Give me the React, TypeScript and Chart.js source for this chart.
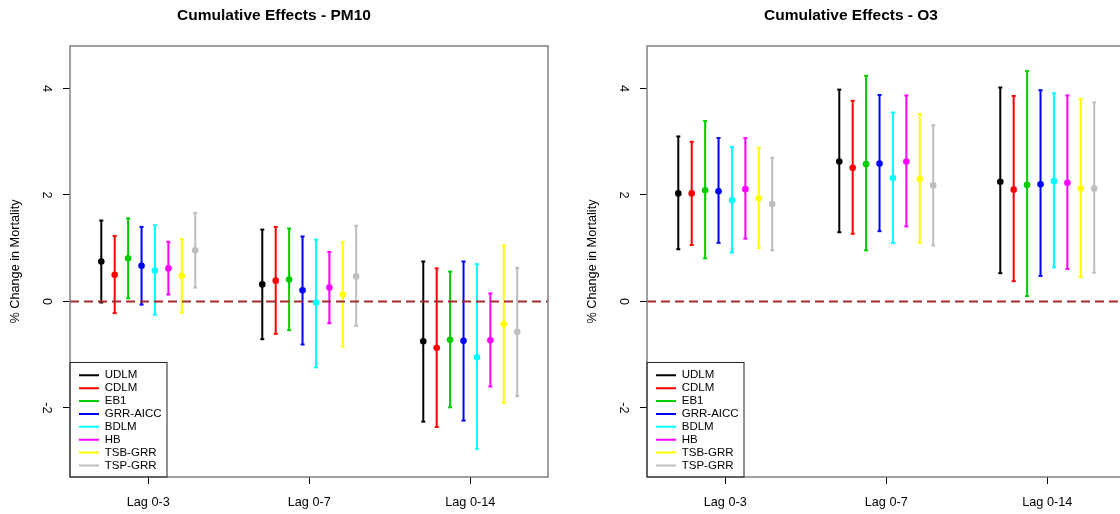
import React, { useEffect, useRef } from "react";
import { Chart, registerables } from "chart.js";

Chart.register(...registerables);

const FONT = "'Liberation Sans', Arial, Helvetica, sans-serif";

const lagLabels = ["Lag 0-3", "Lag 0-7", "Lag 0-14"];
const lagPositions = [1, 2, 3];
const models = ["UDLM", "CDLM", "EB1", "GRR-AICC", "BDLM", "HB", "TSB-GRR", "TSP-GRR"];
const modelColors = ["#000000", "#FF0000", "#00CD00", "#0000FF", "#00FFFF", "#FF00FF", "#FFFF00", "#BEBEBE"];
const yTicks = [-2, 0, 2, 4];
const yMin = -3.3;
const yMax = 4.8;
const xMin = 0.514;
const xMax = 3.483;
const dodge = 1 / 12;
const referenceLevel = 0;

// rows: models, columns: Lag 0-3, Lag 0-7, Lag 0-14
const pm10Estimate = [
  [0.75, 0.32, -0.75],
  [0.5, 0.39, -0.87],
  [0.81, 0.41, -0.72],
  [0.67, 0.21, -0.74],
  [0.58, -0.02, -1.05],
  [0.62, 0.26, -0.73],
  [0.48, 0.13, -0.43],
  [0.96, 0.47, -0.57],
];
const pm10Lower = [
  [-0.02, -0.71, -2.26],
  [-0.22, -0.61, -2.36],
  [0.06, -0.54, -1.99],
  [-0.06, -0.81, -2.24],
  [-0.25, -1.24, -2.77],
  [0.13, -0.41, -1.6],
  [-0.21, -0.85, -1.91],
  [0.26, -0.46, -1.78],
];
const pm10Upper = [
  [1.52, 1.35, 0.75],
  [1.23, 1.4, 0.62],
  [1.56, 1.37, 0.56],
  [1.4, 1.22, 0.75],
  [1.43, 1.16, 0.7],
  [1.12, 0.93, 0.15],
  [1.17, 1.11, 1.05],
  [1.66, 1.42, 0.63],
];

const o3Estimate = [
  [2.03, 2.63, 2.25],
  [2.03, 2.51, 2.1],
  [2.09, 2.58, 2.19],
  [2.07, 2.59, 2.2],
  [1.9, 2.32, 2.26],
  [2.11, 2.63, 2.23],
  [1.94, 2.3, 2.12],
  [1.83, 2.18, 2.12],
];
const o3Lower = [
  [0.98, 1.3, 0.53],
  [1.06, 1.27, 0.38],
  [0.81, 0.96, 0.1],
  [1.1, 1.32, 0.48],
  [0.92, 1.1, 0.64],
  [1.18, 1.41, 0.61],
  [1.0, 1.1, 0.46],
  [0.96, 1.05, 0.54],
];
const o3Upper = [
  [3.1, 3.98, 4.02],
  [3.0, 3.77, 3.86],
  [3.39, 4.24, 4.33],
  [3.07, 3.88, 3.97],
  [2.9, 3.55, 3.91],
  [3.07, 3.87, 3.87],
  [2.89, 3.52, 3.8],
  [2.7, 3.31, 3.74],
];

const BOX_COLOR = "#808080";
const LEGEND_FONT = 11.5;
const LEGEND_PAD = 1.375;
const LEGEND_LINE = 20;
const LEGEND_ROWS_FROM_BOTTOM = 107.5; // first row top, measured up from plot bottom
const LEGEND_INDENT = 7.625;

const framePlugin = {
  id: "frame",
  afterLayout(chart: any) {
    const lg = chart.legend;
    if (!lg) return;
    const a = chart.chartArea;
    const rowTop = a.bottom - LEGEND_ROWS_FROM_BOTTOM;
    lg.left = a.left + LEGEND_INDENT;
    lg.top = rowTop - LEGEND_PAD;
    lg.bottom = a.bottom + 40;
  },
  afterDraw(chart: any) {
    const { ctx, chartArea: a } = chart;
    ctx.save();
    ctx.strokeStyle = BOX_COLOR;
    ctx.lineWidth = 1.5;
    ctx.strokeRect(a.left, a.top, a.right - a.left, a.bottom - a.top);
    const lg = chart.legend;
    if (lg) {
      ctx.font = `${LEGEND_FONT}px ${FONT}`;
      let maxW = 0;
      models.forEach((m) => {
        maxW = Math.max(maxW, ctx.measureText(m).width);
      });
      const textStart = lg.left + LEGEND_PAD + LEGEND_LINE + LEGEND_FONT / 2;
      const right = textStart + maxW + 5;
      const firstRowCenter = a.bottom - LEGEND_ROWS_FROM_BOTTOM + LEGEND_FONT / 2;
      const top = Math.round(firstRowCenter - 13) + 0.5;
      ctx.strokeStyle = "#222222";
      ctx.lineWidth = 1;
      ctx.strokeRect(a.left, top, Math.round(right - a.left), a.bottom - top);
    }
    ctx.restore();
  },
};

type PanelProps = {
  title: string;
  est: number[][];
  lo: number[][];
  hi: number[][];
};

function Panel({ title, est, lo, hi }: PanelProps) {
  const ref = useRef<HTMLCanvasElement | null>(null);

  useEffect(() => {
    if (!ref.current) return;
    const datasets: any[] = [];
    models.forEach((m, i) => {
      const c = modelColors[i];
      const bars: any[] = [];
      lagPositions.forEach((p, g) => {
        const x = p + (i - 3.5) * dodge;
        bars.push({ x, y: lo[i][g] }, { x, y: hi[i][g] }, { x, y: null });
      });
      datasets.push({
        type: "line",
        label: m,
        data: bars,
        borderColor: c,
        backgroundColor: c,
        borderWidth: 2,
        borderCapStyle: "butt",
        pointStyle: "line",
        pointRadius: 2,
        pointBorderWidth: 2,
        pointBorderColor: c,
        pointBackgroundColor: c,
        spanGaps: false,
        order: 3,
      });
    });
    datasets.push({
      type: "line",
      label: "reference",
      data: [
        { x: xMin, y: referenceLevel },
        { x: xMax, y: referenceLevel },
      ],
      borderColor: "#A52A2A",
      borderWidth: 2,
      borderDash: [9, 5],
      pointRadius: 0,
      order: 2,
    });
    models.forEach((m, i) => {
      const c = modelColors[i];
      datasets.push({
        type: "line",
        label: m + " estimate",
        data: lagPositions.map((p, g) => ({ x: p + (i - 3.5) * dodge, y: est[i][g] })),
        showLine: false,
        pointStyle: "circle",
        pointRadius: 3.3,
        pointBorderWidth: 0,
        pointBackgroundColor: c,
        pointBorderColor: c,
        borderColor: c,
        backgroundColor: c,
        order: 1,
      });
    });

    let chart: any = null;
    try {
      chart = new Chart(ref.current, {
        type: "line",
        data: { datasets },
        plugins: [framePlugin],
        options: {
          animation: false,
          responsive: false,
          events: [],
          layout: { padding: { left: 0, right: 29, top: 0, bottom: 0 } },
          plugins: {
            tooltip: { enabled: false },
            title: {
              display: true,
              text: title,
              color: "#000",
              font: { family: FONT, size: 15.5, weight: "bold" },
              padding: { top: 6.9, bottom: 20.5 },
            },
            legend: {
              display: true,
              position: "chartArea",
              align: "start",
              labels: {
                filter: (item: any) => item.datasetIndex < models.length,
                usePointStyle: true,
                pointStyleWidth: LEGEND_LINE,
                color: "#000",
                font: { family: FONT, size: LEGEND_FONT },
                padding: LEGEND_PAD,
              },
            },
          },
          scales: {
            x: {
              type: "linear",
              min: xMin,
              max: xMax,
              afterBuildTicks: (s: any) => {
                s.ticks = lagPositions.map((v) => ({ value: v }));
              },
              afterFit: (s: any) => {
                s.height = 37;
              },
              ticks: {
                callback: (_v: any, i: number) => lagLabels[i],
                color: "#000",
                font: { family: FONT, size: 12.7 },
                padding: 11,
                maxRotation: 0,
                minRotation: 0,
                autoSkip: false,
              },
              grid: { drawOnChartArea: false, drawTicks: true, tickLength: 7, tickColor: "#000", tickWidth: 1 },
              border: { display: false },
            },
            y: {
              type: "linear",
              min: yMin,
              max: yMax,
              afterBuildTicks: (s: any) => {
                s.ticks = yTicks.map((v) => ({ value: v }));
              },
              afterFit: (s: any) => {
                s.width = 70;
              },
              ticks: {
                callback: (v: any) => String(v),
                color: "#000",
                font: { family: FONT, size: 12.7 },
                padding: 11,
                minRotation: -90,
                maxRotation: -90,
                crossAlign: "center",
              },
              grid: { drawOnChartArea: false, drawTicks: true, tickLength: 7, tickColor: "#000", tickWidth: 1 },
              border: { display: false },
              title: {
                display: true,
                text: "% Change in Mortality",
                color: "#000",
                font: { family: FONT, size: 12.7 },
                padding: { top: 8.1, bottom: 0 },
              },
            },
          },
        } as any,
      });
    } catch (e) {
      console.error(e && (e as any).stack);
    }
    return () => {
      if (chart) chart.destroy();
    };
  }, [title, est, lo, hi]);

  return <canvas ref={ref} width={577} height={514} style={{ display: "block", width: 577, height: 514 }} />;
}

export default function App() {
  return (
    <div
      style={{
        position: "fixed",
        left: 0,
        top: 0,
        width: 1120,
        height: 514,
        overflow: "hidden",
        background: "#ffffff",
      }}
    >
      <div style={{ position: "absolute", left: 0, top: 0 }}>
        <Panel title="Cumulative Effects - PM10" est={pm10Estimate} lo={pm10Lower} hi={pm10Upper} />
      </div>
      <div style={{ position: "absolute", left: 577, top: 0 }}>
        <Panel title="Cumulative Effects - O3" est={o3Estimate} lo={o3Lower} hi={o3Upper} />
      </div>
    </div>
  );
}
